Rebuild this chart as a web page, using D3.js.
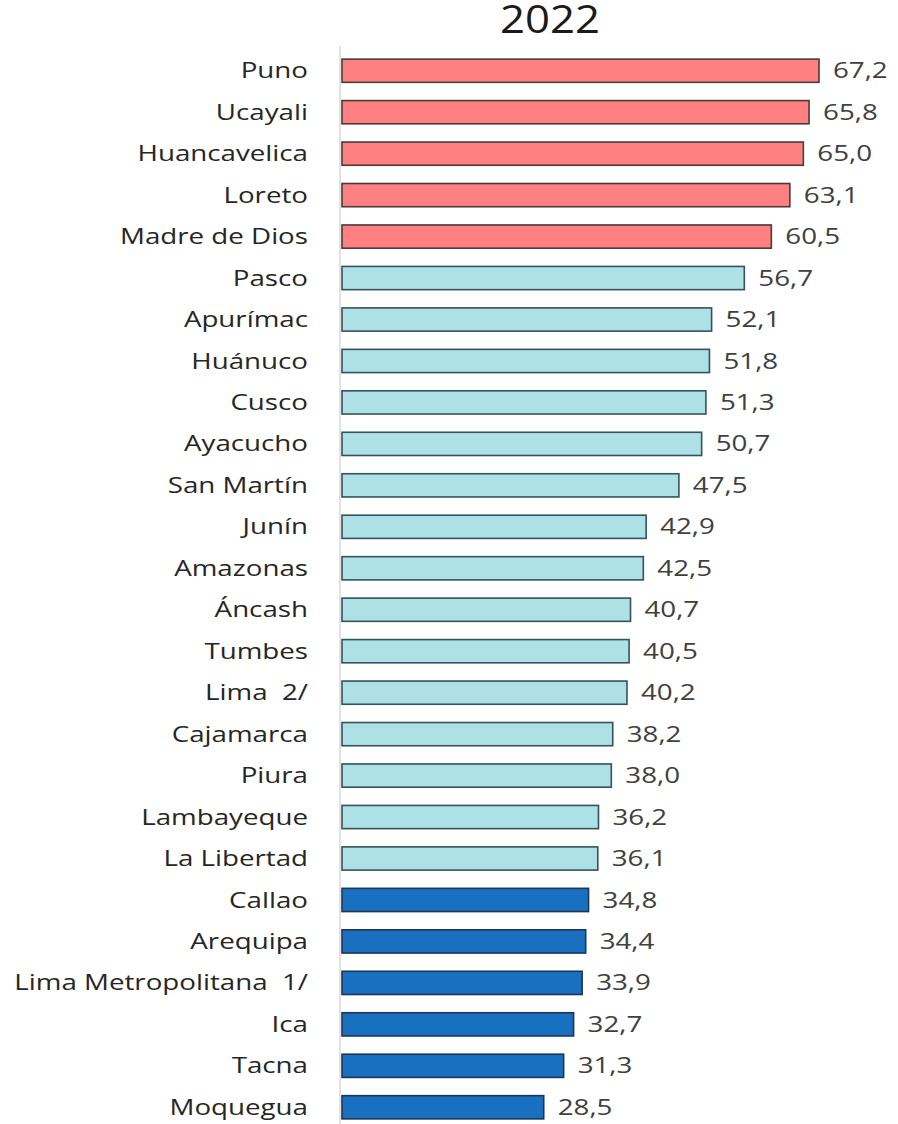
<!DOCTYPE html>
<html>
<head>
<meta charset="utf-8">
<script src="https://cdn.jsdelivr.net/npm/d3@7.9.0/dist/d3.min.js"></script>
<style>
  body { margin: 0; background: #fff; }
  svg { display: block; font-family: "Open Sans", sans-serif; }
</style>
</head>
<body>
<svg id="chart" width="898" height="1124"></svg>
<script>
// --- data ---
const title = "2022";
const regions = [
  "Puno", "Ucayali", "Huancavelica", "Loreto", "Madre de Dios",
  "Pasco", "Apurímac", "Huánuco", "Cusco", "Ayacucho", "San Martín",
  "Junín", "Amazonas", "Áncash", "Tumbes", "Lima  2/", "Cajamarca",
  "Piura", "Lambayeque", "La Libertad",
  "Callao", "Arequipa", "Lima Metropolitana  1/", "Ica", "Tacna", "Moquegua"
];
const values = [
  67.2, 65.8, 65.0, 63.1, 60.5,
  56.7, 52.1, 51.8, 51.3, 50.7, 47.5,
  42.9, 42.5, 40.7, 40.5, 40.2, 38.2,
  38.0, 36.2, 36.1,
  34.8, 34.4, 33.9, 32.7, 31.3, 28.5
];
const groups = [
  "alto", "alto", "alto", "alto", "alto",
  "medio", "medio", "medio", "medio", "medio", "medio",
  "medio", "medio", "medio", "medio", "medio", "medio",
  "medio", "medio", "medio",
  "bajo", "bajo", "bajo", "bajo", "bajo", "bajo"
];

const data = regions.map((r, i) => ({ region: r, value: values[i], group: groups[i] }));

const fills = { alto: "#ff8080", medio: "#aee1e5", bajo: "#1a70c0" };
const strokes = { alto: "#4a3a3a", medio: "#34525c", bajo: "#1e3654" };

// the source text looks stretched sideways, so squeeze it out a bit
const stretch = 1.32;

const svg = d3.select("#chart");

const x = d3.scaleLinear().domain([0, 67.2]).range([341, 819]);
const y = d3.scaleBand()
  .domain(regions)
  .range([50, 1128])
  .paddingInner(0.44)
  .paddingOuter(0.22);

// title
svg.append("text")
  .attr("transform", "translate(550,33) scale(1.15,1)")
  .attr("text-anchor", "middle")
  .attr("font-size", 38)
  .attr("fill", "#1a1a1a")
  .text(title);

// axis line
svg.append("line")
  .attr("x1", 340).attr("x2", 340)
  .attr("y1", 46).attr("y2", 1124)
  .attr("stroke", "#d9d9d9")
  .attr("stroke-width", 1.5);

// bars
svg.selectAll("rect.bar")
  .data(data)
  .join("rect")
  .attr("class", "bar")
  .attr("x", x(0) + 1)
  .attr("y", d => y(d.region))
  .attr("width", d => x(d.value) - x(0) - 1)
  .attr("height", y.bandwidth())
  .attr("fill", d => fills[d.group])
  .attr("stroke", d => strokes[d.group])
  .attr("stroke-width", 1.6);

// category labels
svg.selectAll("text.cat")
  .data(data)
  .join("text")
  .attr("class", "cat")
  .attr("transform", d => `translate(308,${y(d.region) + y.bandwidth() / 2}) scale(${stretch},1)`)
  .attr("dy", "0.36em")
  .attr("text-anchor", "end")
  .attr("font-size", 21)
  .attr("fill", "#262626")
  .text(d => d.region.replace(/ /g, "\u00a0"));

// value labels
svg.selectAll("text.val")
  .data(data)
  .join("text")
  .attr("class", "val")
  .attr("transform", d => `translate(${x(d.value) + 14},${y(d.region) + y.bandwidth() / 2}) scale(${stretch},1)`)
  .attr("dy", "0.36em")
  .attr("font-size", 21)
  .attr("fill", "#404040")
  .text(d => d3.format(".1f")(d.value).replace(".", ","));
</script>
</body>
</html>
